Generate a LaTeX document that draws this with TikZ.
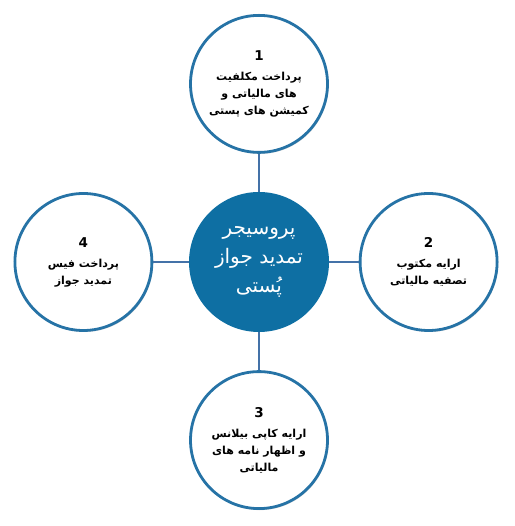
\documentclass[tikz,border=0pt]{standalone}
\usepackage{fontspec}
\newfontfamily\arabicfont[Script=Arabic]{DejaVu Sans}
\TeXXeTstate=1
\usetikzlibrary{positioning,shadows}
\definecolor{hubblue}{RGB}{14,111,163}
\definecolor{ringblue}{RGB}{38,115,166}
\definecolor{linkblue}{RGB}{68,114,168}

\begin{document}
\begin{tikzpicture}[x=1pt, y=1pt,
  hub/.style = {circle, fill=hubblue, minimum size=140pt, inner sep=0pt, text=white, align=center, font=\arabicfont\fontsize{20}{29}\selectfont},
  stage/.style = {circle, draw=ringblue, line width=2.8pt, fill=white, minimum size=137pt, inner sep=0pt, align=center, font=\arabicfont\bfseries\fontsize{11}{17}\selectfont, drop shadow={shadow xshift=1pt, shadow yshift=-1.5pt, opacity=0.3}},
  link/.style = {linkblue, line width=1.5pt}]

% Frame
\useasboundingbox (0,0) rectangle (514,526);

% Centre
\node[hub] (proc) at (259,264) {\beginR پروسیجر\endR\\\beginR تمدید جواز\endR\\\beginR پُستی\endR};

% Stages
\node[stage, above=38pt of proc] (s1) {{\fontsize{13.5}{16}\selectfont 1}\\[3pt]\beginR پرداخت مکلفیت\endR\\\beginR های مالیاتی و\endR\\\beginR کمیشن های پستی\endR};
\node[stage, right=29.5pt of proc] (s2) {{\fontsize{13.5}{16}\selectfont 2}\\[3pt]\beginR ارایه مکتوب\endR\\\beginR تصفیه مالیاتی\endR};
\node[stage, below=38pt of proc] (s3) {{\fontsize{13.5}{16}\selectfont 3}\\[3pt]\beginR ارایه کاپی بیلانس\endR\\\beginR و اظهار نامه های\endR\\\beginR مالیاتی\endR};
\node[stage, left=35.5pt of proc] (s4) {{\fontsize{13.5}{16}\selectfont 4}\\[3pt]\beginR پرداخت فیس\endR\\\beginR تمدید جواز\endR};

% Connectors
\draw[link] (s1) -- (proc);
\draw[link] (s2) -- (proc);
\draw[link] (s3) -- (proc);
\draw[link] (s4) -- (proc);

\end{tikzpicture}
\end{document}
